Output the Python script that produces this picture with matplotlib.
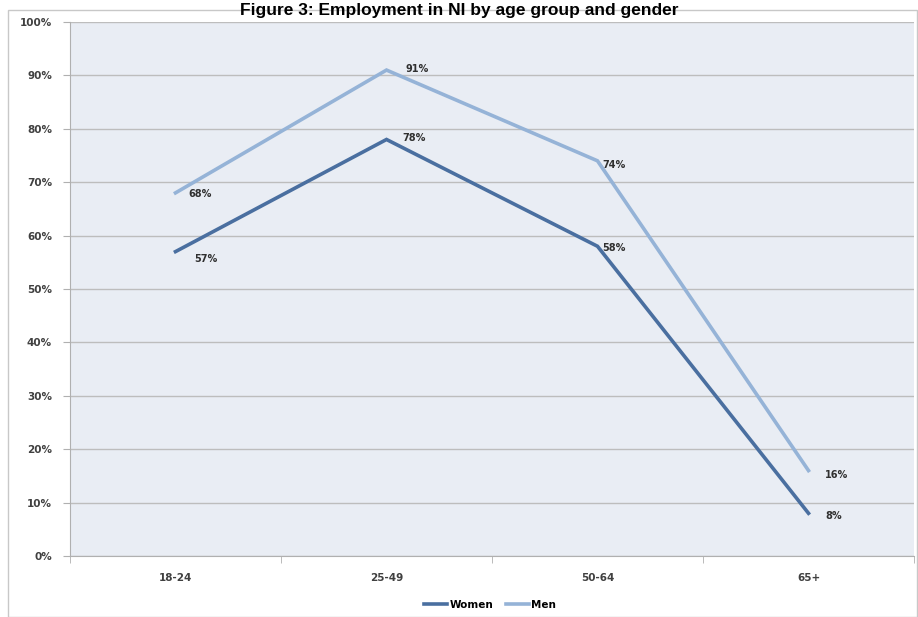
import matplotlib
matplotlib.use("Agg")
import matplotlib.pyplot as plt
from matplotlib.patches import Rectangle
from matplotlib.ticker import FuncFormatter, FixedLocator

categories = ["18-24", "25-49", "50-64", "65+"]
women = [57, 78, 58, 8]
men = [68, 91, 74, 16]
yticks = list(range(0, 101, 10))
title = "Figure 3: Employment in NI by age group and gender"

W, H = 918, 617
fig = plt.figure(figsize=(W / 100, H / 100), dpi=100)
fig.patch.set_facecolor("white")

# outer chart frame
fig.patches.append(Rectangle((8 / W, 0), (W - 9) / W, (H - 10) / H, transform=fig.transFigure,
                             fill=False, edgecolor="#c8c8c8", linewidth=1))

ax = fig.add_axes([70 / W, 61 / H, 844 / W, 534 / H])
ax.set_facecolor("#e9edf4")
x = list(range(len(categories)))
ax.set_xlim(-0.5, len(categories) - 0.5)
ax.set_ylim(0, 100)

ax.yaxis.set_major_locator(FixedLocator(yticks))
ax.yaxis.set_major_formatter(FuncFormatter(lambda v, p: f"{int(v)}%"))
ax.grid(axis="y", color="#bdbdbd", linewidth=1)
ax.set_axisbelow(True)

for s in ["top", "right"]:
    ax.spines[s].set_visible(False)
ax.spines["left"].set_color("#b0b0b0")
ax.spines["bottom"].set_color("#b0b0b0")

ax.set_xticks(x)
ax.set_xticklabels(categories)
ax.tick_params(axis="x", length=0, pad=12)
ax.set_xticks([i - 0.5 for i in range(len(categories) + 1)], minor=True)
ax.tick_params(axis="x", which="minor", length=5, color="#b0b0b0")
ax.tick_params(axis="y", length=5, color="#b0b0b0", pad=8)
for lab in ax.get_xticklabels() + ax.get_yticklabels():
    lab.set_fontsize(7.5)
    lab.set_fontweight("bold")
    lab.set_color("#404040")

cw = "#4a6fa0"
cm = "#95b3d7"
ax.plot(x, women, color=cw, linewidth=2.6, label="Women", solid_joinstyle="miter")
ax.plot(x, men, color=cm, linewidth=2.6, label="Men", solid_joinstyle="miter")

offs_w = [(22, -5), (20, 1), (12, -1), (18, -2)]
offs_m = [(18, -1), (22, 1), (12, -3), (20, -3)]
for xi, v, o in zip(x, women, offs_w):
    ax.annotate(f"{v}%", (xi, v), xytext=o, textcoords="offset points", ha="center", va="center",
                fontsize=7, fontweight="bold", color="#303030")
for xi, v, o in zip(x, men, offs_m):
    ax.annotate(f"{v}%", (xi, v), xytext=o, textcoords="offset points", ha="center", va="center",
                fontsize=7, fontweight="bold", color="#303030")

fig.legend(loc="center", bbox_to_anchor=(490 / W, 12 / H), ncol=2, frameon=False,
           handlelength=2.2, columnspacing=1.2, handletextpad=0.2,
           prop={"weight": "bold", "size": 7.5})

fig.text(0.5, (H - 18) / H, title, ha="center", va="bottom", fontsize=12.5, fontweight="bold",
         family="Liberation Sans")

fig.savefig("out.png", dpi=100, facecolor="white")
